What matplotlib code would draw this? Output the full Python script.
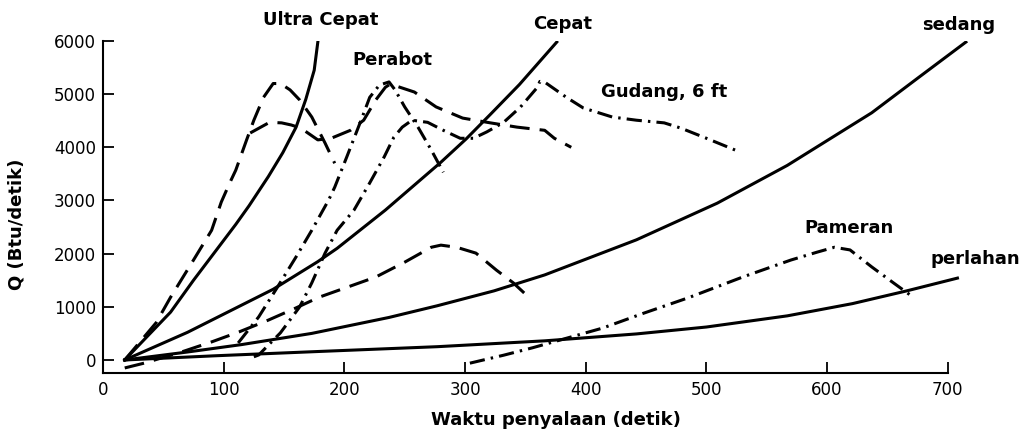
import matplotlib.pyplot as plt

# t-squared design fires (solid)
ultra_t = [18, 34, 56, 75, 94, 110, 121, 137, 149, 160, 168, 175, 178]
ultra_q = [0, 380, 900, 1500, 2070, 2550, 2900, 3450, 3900, 4380, 4900, 5450, 5980]

cepat_t = [18, 70, 141, 178, 194, 234, 280, 301, 321, 345, 376]
cepat_q = [0, 520, 1330, 1850, 2100, 2820, 3720, 4160, 4620, 5180, 5980]

sedang_t = [18, 70, 115, 173, 237, 277, 324, 366, 442, 509, 567, 637, 675, 715]
sedang_q = [0, 150, 290, 500, 800, 1020, 1300, 1600, 2260, 2950, 3660, 4650, 5300, 5980]

perlahan_t = [18, 94, 179, 277, 366, 442, 500, 567, 621, 666, 708]
perlahan_q = [0, 80, 160, 250, 360, 490, 620, 830, 1060, 1300, 1540]

# measured fires (dashed)
a_t = [18, 44, 56, 75, 90, 98, 105, 110, 119, 125, 133, 141, 147, 155, 163, 173, 184, 192]
a_q = [0, 700, 1180, 1880, 2440, 2970, 3330, 3570, 4140, 4510, 4940, 5200, 5200, 5080, 4890, 4570, 4080, 3700]

b_t = [122, 138, 148, 156, 164, 178, 189, 205, 216, 226, 234, 238, 258, 276, 298, 321, 343, 366, 374, 388]
b_q = [4270, 4470, 4460, 4420, 4360, 4140, 4170, 4320, 4510, 4890, 5130, 5190, 5040, 4760, 4550, 4460, 4380, 4320, 4170, 4000]

d_t = [18, 34, 65, 90, 113, 137, 160, 179, 226, 250, 272, 280, 293, 309, 326, 340, 349]
d_q = [-150, -60, 150, 340, 530, 750, 980, 1180, 1560, 1840, 2120, 2160, 2120, 2010, 1690, 1450, 1260]

# measured fires (dash-dot)
perabot_t = [112, 129, 144, 160, 173, 187, 192, 202, 213, 221, 229, 237, 242, 250, 261, 272, 282]
perabot_q = [320, 810, 1350, 1940, 2440, 3010, 3250, 3820, 4460, 4940, 5170, 5230, 5080, 4760, 4380, 3950, 3530]

gudang_t = [125, 129, 147, 163, 173, 184, 194, 208, 221, 233, 241, 248, 256, 269, 282, 296, 307,
            318, 332, 346, 360, 362, 367, 384, 398, 422, 442, 465, 479, 500, 528]
gudang_q = [60, 94, 510, 1000, 1450, 2010, 2440, 2820, 3330, 3820, 4190, 4380, 4510, 4470, 4320, 4170, 4170,
            4290, 4470, 4760, 5130, 5240, 5210, 4940, 4740, 4570, 4510, 4460, 4360, 4170, 3910]

pameran_t = [304, 332, 356, 414, 448, 485, 530, 570, 592, 606, 619, 637, 655, 672]
pameran_q = [-60, 90, 230, 600, 880, 1170, 1560, 1880, 2030, 2120, 2070, 1750, 1450, 1170]

# curve labels: text, t, Q
labels = [("Ultra Cepat", 180, 6390), ("Perabot", 240, 5640), ("Cepat", 381, 6320),
          ("sedang", 709, 6300), ("Gudang, 6 ft", 465, 5040), ("Pameran", 618, 2480),
          ("perlahan", 723, 1900)]

fig = plt.figure(figsize=(10.29, 4.38), dpi=100)
ax = fig.add_axes([0.1001, 0.1484, 0.8503, 0.758])

lw = 2.2
for t, q in [(ultra_t, ultra_q), (cepat_t, cepat_q), (sedang_t, sedang_q), (perlahan_t, perlahan_q)]:
    ax.plot(t, q, color="k", lw=lw)
for t, q in [(a_t, a_q), (b_t, b_q), (d_t, d_q)]:
    ax.plot(t, q, color="k", lw=lw, dashes=(6.5, 3.3))
for t, q in [(perabot_t, perabot_q), (gudang_t, gudang_q), (pameran_t, pameran_q)]:
    ax.plot(t, q, color="k", lw=lw, dashes=(5, 2, 0.8, 2))

for txt, t, q in labels:
    ax.text(t, q, txt, ha="center", va="center", fontsize=13, fontweight="bold", clip_on=False)

ax.set_xlim(0, 725)
ax.set_ylim(-245, 6000)
ax.spines["top"].set_visible(False)
ax.spines["right"].set_visible(False)
ax.spines["bottom"].set_bounds(0, 700)
for s in ("left", "bottom"):
    ax.spines[s].set_linewidth(1.5)
ax.set_xticks(range(0, 701, 100))
ax.set_yticks(range(0, 6001, 1000))
ax.tick_params(direction="in", length=8, width=1.3, labelsize=12)
ax.tick_params(axis="x", pad=6)
ax.tick_params(axis="y", pad=5)

fig.text(0.540, 0.041, "Waktu penyalaan (detik)", ha="center", va="center",
         fontsize=13, fontweight="bold")
fig.text(0.0165, 0.489, "Q (Btu/detik)", ha="center", va="center", rotation=90,
         fontsize=13, fontweight="bold")

fig.savefig("out.png", dpi=100)
